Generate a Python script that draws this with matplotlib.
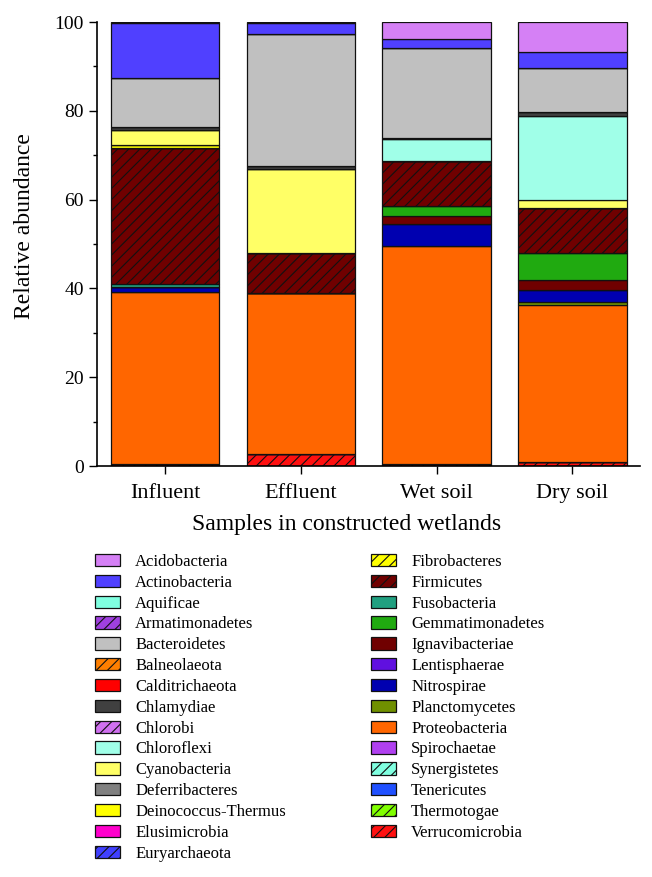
import matplotlib
matplotlib.use("Agg")
import matplotlib.pyplot as plt
from matplotlib.ticker import MultipleLocator
import numpy as np

plt.rcParams["font.family"] = ["Liberation Serif", "DejaVu Serif"]
plt.rcParams["hatch.linewidth"] = 0.8

samples = ["Influent", "Effluent", "Wet soil", "Dry soil"]

phyla = [
    "Acidobacteria", "Actinobacteria", "Aquificae", "Armatimonadetes",
    "Bacteroidetes", "Balneolaeota", "Calditrichaeota", "Chlamydiae",
    "Chlorobi", "Chloroflexi", "Cyanobacteria", "Deferribacteres",
    "Deinococcus-Thermus", "Elusimicrobia", "Euryarchaeota",
    "Fibrobacteres", "Firmicutes", "Fusobacteria", "Gemmatimonadetes",
    "Ignavibacteriae", "Lentisphaerae", "Nitrospirae", "Planctomycetes",
    "Proteobacteria", "Spirochaetae", "Synergistetes", "Tenericutes",
    "Thermotogae", "Verrucomicrobia",
]

colors = [
    "#d580f5", "#5040ff", "#80ffe0", "#a040e0",
    "#c0c0c0", "#ff7f00", "#ff0000", "#404040",
    "#d070f0", "#a0ffe8", "#ffff66", "#808080",
    "#ffff00", "#ff00cc", "#4040ff",
    "#ffff00", "#700000", "#20a080", "#20aa10",
    "#700000", "#6010e0", "#0000b0", "#709000",
    "#ff6600", "#b040f0", "#80ffe0", "#2050ff",
    "#80ff00", "#ff1010",
]

hatched = {"Armatimonadetes", "Balneolaeota", "Chlorobi", "Euryarchaeota",
           "Fibrobacteres", "Firmicutes", "Synergistetes", "Thermotogae",
           "Verrucomicrobia"}

# relative abundance (%) per sample: Influent, Effluent, Wet soil, Dry soil
abundance = {
    "Acidobacteria":       [0.3, 0.3, 3.8, 6.8],
    "Actinobacteria":      [12.2, 2.3, 2.1, 3.6],
    "Bacteroidetes":       [11.2, 29.8, 20.2, 9.8],
    "Chlamydiae":          [0.7, 0.8, 0.3, 1.0],
    "Chloroflexi":         [0.0, 0.0, 5.0, 18.9],
    "Cyanobacteria":       [3.2, 18.9, 0.0, 1.7],
    "Deinococcus-Thermus": [0.7, 0.0, 0.0, 0.0],
    "Firmicutes":          [30.6, 9.0, 10.0, 10.3],
    "Fusobacteria":        [0.7, 0.0, 0.0, 0.0],
    "Gemmatimonadetes":    [0.0, 0.0, 2.2, 6.0],
    "Ignavibacteriae":     [0.0, 0.0, 2.0, 2.3],
    "Nitrospirae":         [1.1, 0.0, 4.9, 2.7],
    "Planctomycetes":      [0.0, 0.0, 0.0, 0.6],
    "Proteobacteria":      [38.8, 36.2, 49.0, 35.3],
    "Verrucomicrobia":     [0.5, 2.7, 0.5, 1.0],
}

fig = plt.figure(figsize=(6.52, 8.77), dpi=100)
ax = fig.add_axes([0.149, 0.4686, 0.833, 0.5063])

x = np.arange(len(samples))
bottom = np.zeros(len(samples))
handles = {}
# stack from the last phylum (bottom) to the first (top)
for name, col in zip(phyla[::-1], colors[::-1]):
    vals = np.array(abundance.get(name, [0.0] * len(samples)))
    b = ax.bar(x, vals, 0.8, bottom=bottom, color=col, edgecolor="#111111",
               linewidth=0.9, hatch="///" if name in hatched else None,
               label=name)
    handles[name] = b
    bottom += vals

ax.set_xlim(-0.5, 3.5)
ax.set_ylim(0, 100)
ax.set_xticks(x)
ax.set_xticklabels(samples, fontsize=16)
ax.yaxis.set_major_locator(MultipleLocator(20))
ax.yaxis.set_minor_locator(MultipleLocator(10))
ax.tick_params(axis="y", labelsize=14, direction="out", length=6, width=1)
ax.tick_params(axis="y", which="minor", length=3, width=1)
ax.tick_params(axis="x", direction="out", length=6, width=1, pad=7)
for s in ["top", "right"]:
    ax.spines[s].set_visible(False)
for s in ["left", "bottom"]:
    ax.spines[s].set_linewidth(1.2)
ax.set_ylabel("Relative abundance", fontsize=17)
ax.set_xlabel("Samples in constructed wetlands", fontsize=17)
ax.yaxis.set_label_coords(-0.114, 0.54)
ax.xaxis.set_label_coords(0.46, -0.108)

fig.legend([handles[n] for n in phyla], phyla, ncol=2, frameon=False,
           loc="upper left", bbox_to_anchor=(0.136, 0.376), fontsize=12,
           handlelength=1.5, handleheight=0.75, labelspacing=0.29,
           columnspacing=5.1, handletextpad=0.9, borderaxespad=0)

fig.savefig("out.png", dpi=100)
